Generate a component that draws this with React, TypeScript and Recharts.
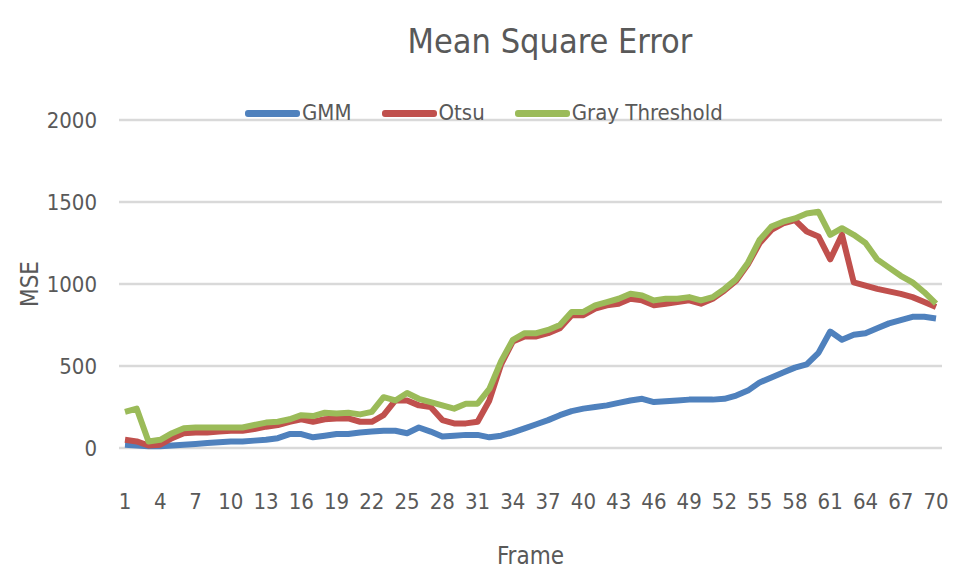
import React from "react";
import { LineChart, Line, XAxis, YAxis, CartesianGrid } from "recharts";

const FONT = "'DejaVu Sans Condensed', 'Liberation Sans Narrow', Roboto, sans-serif";
const TEXT = "#595959";

const frames = [
  1, 2, 3, 4, 5, 6, 7, 8, 9, 10, 11, 12, 13, 14, 15, 16, 17, 18, 19, 20,
  21, 22, 23, 24, 25, 26, 27, 28, 29, 30, 31, 32, 33, 34, 35, 36, 37, 38, 39, 40,
  41, 42, 43, 44, 45, 46, 47, 48, 49, 50, 51, 52, 53, 54, 55, 56, 57, 58, 59, 60,
  61, 62, 63, 64, 65, 66, 67, 68, 69, 70,
];

const gmm = [
  20, 15, 10, 10, 15, 20, 25, 30, 35, 40,
  40, 45, 50, 60, 85, 85, 65, 75, 85, 85,
  95, 100, 105, 105, 90, 125, 100, 70, 75, 80,
  80, 65, 75, 95, 120, 145, 170, 200, 225, 240,
  250, 260, 275, 290, 300, 280, 285, 290, 295, 295,
  295, 300, 320, 350, 400, 430, 460, 490, 510, 580,
  710, 660, 690, 700, 730, 760, 780, 800, 800, 790,
];

const otsu = [
  50, 40, 15, 20, 60, 90, 95, 95, 100, 105,
  105, 115, 130, 140, 160, 175, 160, 175, 180, 180,
  160, 160, 200, 290, 290, 260, 250, 170, 150, 150,
  160, 290, 510, 650, 680, 680, 700, 730, 810, 810,
  850, 870, 880, 910, 900, 870, 880, 890, 900, 880,
  910, 960, 1020, 1120, 1250, 1330, 1370, 1390, 1320, 1290,
  1150, 1300, 1010, 990, 970, 955, 940, 920, 890, 860,
];

const grayThreshold = [
  220, 240, 40, 50, 90, 120, 125, 125, 125, 125,
  125, 140, 155, 160, 175, 200, 195, 215, 210, 215,
  205, 220, 310, 290, 335, 300, 280, 260, 240, 270,
  270, 360, 530, 660, 700, 700, 720, 750, 830, 830,
  870, 890, 910, 940, 930, 900, 910, 910, 920, 900,
  920, 970, 1030, 1130, 1270, 1350, 1380, 1400, 1430, 1440,
  1300, 1340, 1300, 1250, 1150, 1100, 1050, 1010, 950, 880,
];

const yTicks = [0, 500, 1000, 1500, 2000];

const series = [
  { key: "gmm", label: "GMM", color: "#4F81BD" },
  { key: "otsu", label: "Otsu", color: "#C0504D" },
  { key: "gray", label: "Gray Threshold", color: "#9BBB59" },
];

const data = frames.map((f, i) => ({
  frame: f,
  gmm: gmm[i],
  otsu: otsu[i],
  gray: grayThreshold[i],
}));

export default function App() {
  return (
    <div style={{ position: "relative", width: 941, height: 562, background: "white", fontFamily: FONT }}>
      <div
        style={{
          position: "absolute",
          left: 542,
          top: 16,
          transform: "translateX(-50%)",
          fontSize: 34,
          color: TEXT,
          whiteSpace: "nowrap",
          lineHeight: 1,
        }}
      >
        Mean Square Error
      </div>
      <LineChart width={941} height={562} data={data} margin={{ top: 112, right: 7, bottom: 0, left: 0 }}>
        <CartesianGrid vertical={false} stroke="#d9d9d9" strokeWidth={2.5} />
        <XAxis
          dataKey="frame"
          interval={2}
          tickLine={false}
          axisLine={false}
          height={122}
          tickMargin={39}
          padding={{ left: 6, right: 6 }}
          tick={{ fill: TEXT, fontSize: 22, fontFamily: FONT }}
          label={{ value: "Frame", position: "insideBottom", offset: 6, fill: TEXT, fontSize: 24, fontFamily: FONT }}
        />
        <YAxis
          domain={[0, 2000]}
          ticks={yTicks}
          tickLine={false}
          axisLine={false}
          width={111}
          tickMargin={16}
          tick={{ fill: TEXT, fontSize: 22, fontFamily: FONT }}
          label={{
            content: () => (
              <text
                x={22}
                y={276}
                transform="rotate(-90 22 276)"
                textAnchor="middle"
                dominantBaseline="central"
                fill={TEXT}
                fontSize={24}
                fontFamily={FONT}
              >
                MSE
              </text>
            ),
          }}
        />
        {series.map((s) => (
          <Line
            key={s.key}
            type="linear"
            dataKey={s.key}
            name={s.label}
            stroke={s.color}
            strokeWidth={6}
            strokeLinejoin="round"
            dot={false}
            isAnimationActive={false}
          />
        ))}
      </LineChart>
      <div
        style={{
          position: "absolute",
          top: 92,
          left: 237,
          display: "flex",
          alignItems: "center",
          fontSize: 22,
          color: TEXT,
          lineHeight: "26px",
        }}
      >
        {series.map((s, i) => (
          <div key={s.key} style={{ display: "flex", alignItems: "center", marginLeft: i ? 30 : 0 }}>
            <span style={{ width: 55, height: 7, borderRadius: 3, background: s.color, marginRight: 2 }} />
            <span>{s.label}</span>
          </div>
        ))}
      </div>
    </div>
  );
}
